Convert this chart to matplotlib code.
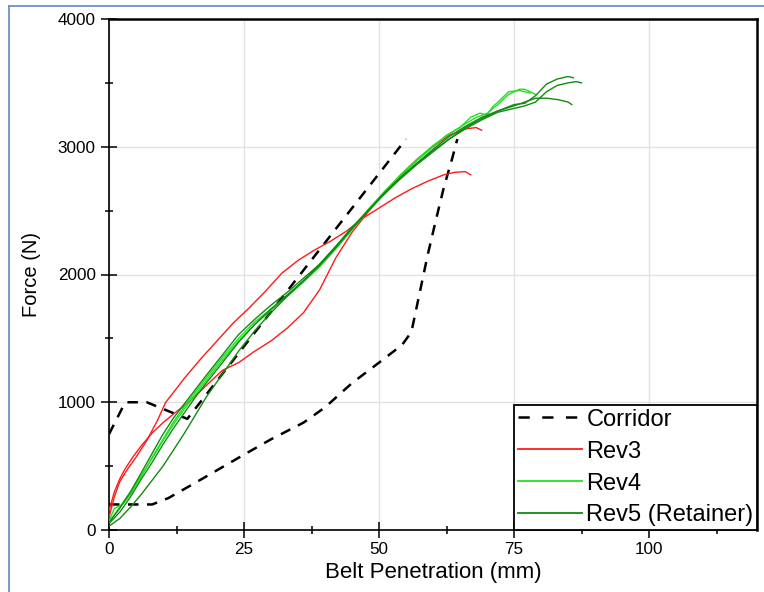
import matplotlib
matplotlib.use("Agg")
import matplotlib.pyplot as plt
from matplotlib.lines import Line2D

plt.rcParams['font.family'] = ['Liberation Sans', 'DejaVu Sans']

# ---------------- data ----------------
corr_upper_x = [0, 3, 7, 14.5, 55]
corr_upper_y = [750, 1000, 1000, 870, 3060]
corr_lower_x = [0, 8, 11, 16, 25, 30, 36, 40, 45, 50, 54.3, 56, 57.5, 59, 60.5, 62, 63.5, 64.5]
corr_lower_y = [200, 200, 250, 370, 590, 710, 840, 960, 1150, 1310, 1450, 1550, 1850, 2150, 2420, 2680, 2900, 3060]

rev3a_x = [0, 1, 2, 3.5, 5, 7, 9, 10.5, 12, 14, 17, 20, 23, 26, 29, 32, 35, 38, 41, 44, 47, 50, 53, 56, 59, 62, 64, 66, 67]
rev3a_y = [100, 260, 380, 480, 570, 700, 860, 1000, 1080, 1190, 1340, 1480, 1620, 1740, 1870, 2010, 2110, 2190, 2260, 2340, 2440, 2520, 2600, 2670, 2730, 2780, 2800, 2805, 2780]
rev3b_x = [0, 1, 2, 3, 4.4, 6, 8, 10, 12, 15, 18, 21, 24, 27, 30, 33, 36, 39, 42, 45, 48, 51, 54, 57, 60, 63, 66, 68, 69]
rev3b_y = [150, 300, 400, 480, 570, 660, 760, 840, 910, 1010, 1130, 1250, 1310, 1400, 1480, 1580, 1700, 1880, 2130, 2330, 2490, 2640, 2780, 2900, 3000, 3090, 3140, 3150, 3130]

rev4a_x = [0, 1, 2.5, 4, 6, 8, 10, 12, 14, 16, 18, 21, 24, 27, 30, 33, 36, 39, 42, 45, 48, 51, 54, 57, 60, 62.5, 65, 67, 68.7, 70, 71, 72.4, 74, 76, 78]
rev4a_y = [70, 170, 200, 280, 420, 570, 710, 850, 970, 1080, 1190, 1350, 1500, 1630, 1730, 1830, 1940, 2060, 2200, 2350, 2500, 2640, 2770, 2890, 3000, 3090, 3150, 3232, 3263, 3250, 3310, 3365, 3430, 3440, 3420]
rev4b_x = [0, 2, 4, 6, 8, 10, 12, 14, 16, 18, 21, 24, 27, 30, 33, 36, 39, 42, 45, 48, 51, 54, 57, 60, 63, 66, 68, 70, 72, 74, 76, 77, 79]
rev4b_y = [60, 180, 300, 430, 560, 700, 830, 950, 1060, 1170, 1330, 1480, 1610, 1720, 1830, 1950, 2070, 2210, 2360, 2510, 2650, 2780, 2900, 3010, 3100, 3180, 3230, 3260, 3330, 3410, 3450, 3450, 3410]

rev5a_x = [0, 2, 4, 6, 8, 10, 12, 14, 16, 18, 21, 24, 27, 30, 33, 36, 39, 42, 45, 48, 51, 54, 57, 60, 63, 66, 69, 72, 75, 77, 79, 81, 83, 85, 86]
rev5a_y = [60, 170, 300, 450, 600, 750, 880, 990, 1100, 1210, 1370, 1530, 1650, 1760, 1860, 1970, 2080, 2220, 2370, 2500, 2640, 2760, 2870, 2980, 3080, 3160, 3230, 3280, 3330, 3340, 3400, 3490, 3530, 3550, 3540]
rev5b_x = [0, 2, 4, 6, 8, 10, 12, 14, 16, 18, 21, 24, 27, 30, 33, 36, 39, 42, 45, 48, 51, 54, 57, 60, 63, 66, 69, 72, 75, 77, 79, 81, 83, 85, 86.5, 87.5]
rev5b_y = [30, 90, 180, 280, 390, 500, 630, 760, 900, 1040, 1220, 1400, 1560, 1700, 1830, 1950, 2080, 2220, 2360, 2500, 2630, 2750, 2860, 2960, 3060, 3140, 3210, 3270, 3300, 3320, 3350, 3430, 3480, 3500, 3510, 3500]
rev5c_x = [0, 2, 4, 6, 8, 10, 12, 14, 16, 18, 21, 24, 27, 30, 33, 36, 39, 42, 45, 48, 51, 54, 57, 60, 63, 66, 69, 72, 75, 77, 79, 81, 83, 85, 85.7]
rev5c_y = [50, 140, 260, 400, 530, 670, 800, 920, 1040, 1150, 1310, 1470, 1610, 1730, 1840, 1950, 2070, 2210, 2360, 2500, 2630, 2760, 2870, 2970, 3060, 3150, 3220, 3280, 3320, 3350, 3380, 3380, 3370, 3350, 3330]

x_ticks = [0, 25, 50, 75, 100]
y_ticks = [0, 1000, 2000, 3000, 4000]
x_label = "Belt Penetration (mm)"
y_label = "Force (N)"
legend_labels = ["Corridor", "Rev3", "Rev4", "Rev5 (Retainer)"]

c_red = "#ff1a1a"
c_lime = "#22e022"
c_dark = "#138a13"

# ---------------- figure ----------------
fig = plt.figure(figsize=(7.64, 5.92), dpi=100)
ax = fig.add_axes([109 / 764, 1 - 530 / 592, (757 - 109) / 764, (530 - 19) / 592])

ax.grid(True, color="#e2e2e2", linewidth=1.0, zorder=0)
ax.set_axisbelow(True)

dash = (4.2, 3.4)
ax.plot(corr_upper_x, corr_upper_y, color="black", lw=1.8, dashes=dash, zorder=2)
ax.plot(corr_lower_x, corr_lower_y, color="black", lw=1.8, dashes=dash, zorder=2)

lw = 1.0
ax.plot(rev3a_x, rev3a_y, color=c_red, lw=lw, zorder=3)
ax.plot(rev3b_x, rev3b_y, color=c_red, lw=lw, zorder=3)
ax.plot(rev4a_x, rev4a_y, color=c_lime, lw=lw, zorder=4)
ax.plot(rev4b_x, rev4b_y, color=c_lime, lw=lw, zorder=4)
ax.plot(rev5a_x, rev5a_y, color=c_dark, lw=lw, zorder=5)
ax.plot(rev5b_x, rev5b_y, color=c_dark, lw=lw, zorder=5)
ax.plot(rev5c_x, rev5c_y, color=c_dark, lw=lw, zorder=5)

ax.set_xlim(0, 120)
ax.set_ylim(0, 4000)
ax.set_xticks(x_ticks)
ax.set_yticks(y_ticks)
ax.set_xticks([12.5, 37.5, 62.5, 87.5, 112.5], minor=True)
ax.set_yticks([500, 1500, 2500, 3500], minor=True)
ax.tick_params(axis="both", which="major", direction="inout", length=11, width=1.1,
               labelsize=12.3, pad=3, top=False, right=False)
ax.tick_params(axis="both", which="minor", direction="inout", length=6, width=1.1,
               top=False, right=False)
ax.tick_params(axis="y", which="major", pad=4)

for s in ["left", "bottom"]:
    ax.spines[s].set_linewidth(1.2)
for s in ["top", "right"]:
    ax.spines[s].set_linewidth(1.8)

ax.set_xlabel(x_label, fontsize=16, labelpad=4)
ax.set_ylabel(y_label, fontsize=14.5, labelpad=12)

handles = [
    Line2D([], [], color="black", lw=1.8, dashes=(4.5, 5)),
    Line2D([], [], color=c_red, lw=1.3),
    Line2D([], [], color=c_lime, lw=1.3),
    Line2D([], [], color=c_dark, lw=1.3),
]
leg = ax.legend(handles, legend_labels, loc="lower right", borderaxespad=0,
                fontsize=17, handlelength=2.7, handletextpad=0.2,
                labelspacing=0.42, fancybox=False, framealpha=1,
                edgecolor="black", borderpad=0.15)
leg.get_frame().set_linewidth(1.3)

# outer light-blue frame
fig.add_artist(Line2D([8.5 / 764, 8.5 / 764], [0, 1 - 5.5 / 592], transform=fig.transFigure,
                      color="#7090c4", lw=1.3))
fig.add_artist(Line2D([8.5 / 764, 1], [1 - 5.5 / 592, 1 - 5.5 / 592], transform=fig.transFigure,
                      color="#7090c4", lw=1.3))

fig.savefig("out.png", dpi=100)
